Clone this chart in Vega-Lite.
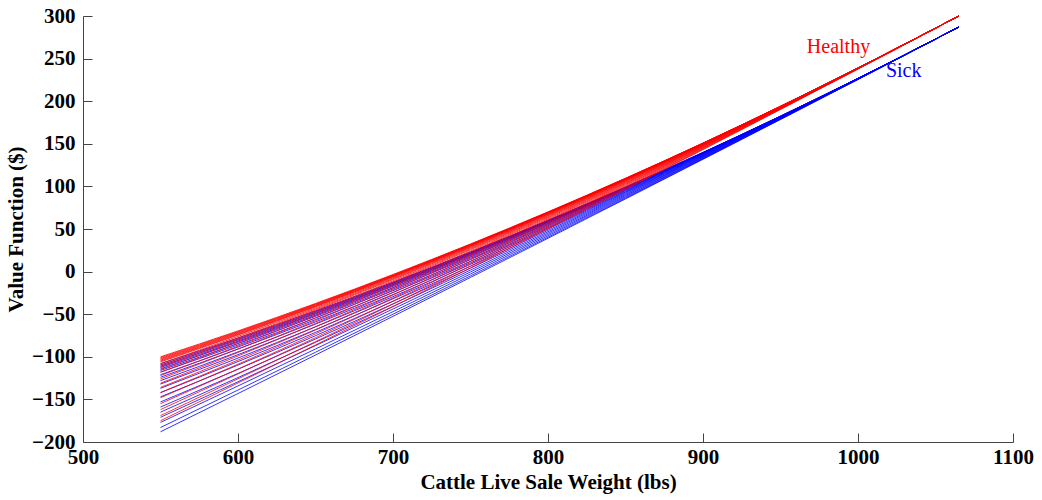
{
"$schema":"https://vega.github.io/schema/vega-lite/v6.json",
"autosize":"none","width":930,"height":426,
"padding":{"left":83,"top":16,"right":29,"bottom":58},
"background":"white",
"config":{"view":{"stroke":null},"font":"Liberation Serif"},
"datasets":{
"labels":[{"grp":"Healthy","lbs":967,"val":256.6},{"grp":"Sick","lbs":1018,"val":228.4}],
"lines":[
{"grp":"Sick","line":23,"lbs":550,"val":-108},{"grp":"Sick","line":23,"lbs":600,"val":-77.9},{"grp":"Sick","line":23,"lbs":700,"val":-12.3},{"grp":"Sick","line":23,"lbs":800,"val":60.3},{"grp":"Sick","line":23,"lbs":900,"val":140.0},{"grp":"Sick","line":23,"lbs":1000,"val":226.8},{"grp":"Sick","line":23,"lbs":1065,"val":287},
{"grp":"Sick","line":24,"lbs":550,"val":-109.5},{"grp":"Sick","line":24,"lbs":600,"val":-79.1},{"grp":"Sick","line":24,"lbs":700,"val":-13.1},{"grp":"Sick","line":24,"lbs":800,"val":59.9},{"grp":"Sick","line":24,"lbs":900,"val":139.8},{"grp":"Sick","line":24,"lbs":1000,"val":226.8},{"grp":"Sick","line":24,"lbs":1065,"val":287},
{"grp":"Sick","line":25,"lbs":550,"val":-111},{"grp":"Sick","line":25,"lbs":600,"val":-80.3},{"grp":"Sick","line":25,"lbs":700,"val":-13.8},{"grp":"Sick","line":25,"lbs":800,"val":59.5},{"grp":"Sick","line":25,"lbs":900,"val":139.7},{"grp":"Sick","line":25,"lbs":1000,"val":226.8},{"grp":"Sick","line":25,"lbs":1065,"val":287},
{"grp":"Sick","line":26,"lbs":550,"val":-112.5},{"grp":"Sick","line":26,"lbs":600,"val":-81.6},{"grp":"Sick","line":26,"lbs":700,"val":-14.6},{"grp":"Sick","line":26,"lbs":800,"val":59.1},{"grp":"Sick","line":26,"lbs":900,"val":139.5},{"grp":"Sick","line":26,"lbs":1000,"val":226.7},{"grp":"Sick","line":26,"lbs":1065,"val":287},
{"grp":"Sick","line":27,"lbs":550,"val":-114},{"grp":"Sick","line":27,"lbs":600,"val":-82.8},{"grp":"Sick","line":27,"lbs":700,"val":-15.3},{"grp":"Sick","line":27,"lbs":800,"val":58.7},{"grp":"Sick","line":27,"lbs":900,"val":139.4},{"grp":"Sick","line":27,"lbs":1000,"val":226.7},{"grp":"Sick","line":27,"lbs":1065,"val":287},
{"grp":"Sick","line":28,"lbs":550,"val":-116},{"grp":"Sick","line":28,"lbs":600,"val":-84.4},{"grp":"Sick","line":28,"lbs":700,"val":-16.3},{"grp":"Sick","line":28,"lbs":800,"val":58.2},{"grp":"Sick","line":28,"lbs":900,"val":139.2},{"grp":"Sick","line":28,"lbs":1000,"val":226.7},{"grp":"Sick","line":28,"lbs":1065,"val":287},
{"grp":"Sick","line":29,"lbs":550,"val":-118},{"grp":"Sick","line":29,"lbs":600,"val":-86.1},{"grp":"Sick","line":29,"lbs":700,"val":-17.3},{"grp":"Sick","line":29,"lbs":800,"val":57.7},{"grp":"Sick","line":29,"lbs":900,"val":139.0},{"grp":"Sick","line":29,"lbs":1000,"val":226.6},{"grp":"Sick","line":29,"lbs":1065,"val":287},
{"grp":"Sick","line":30,"lbs":550,"val":-121},{"grp":"Sick","line":30,"lbs":600,"val":-88.5},{"grp":"Sick","line":30,"lbs":700,"val":-18.8},{"grp":"Sick","line":30,"lbs":800,"val":56.9},{"grp":"Sick","line":30,"lbs":900,"val":138.7},{"grp":"Sick","line":30,"lbs":1000,"val":226.6},{"grp":"Sick","line":30,"lbs":1065,"val":287},
{"grp":"Sick","line":31,"lbs":550,"val":-124},{"grp":"Sick","line":31,"lbs":600,"val":-90.9},{"grp":"Sick","line":31,"lbs":700,"val":-20.3},{"grp":"Sick","line":31,"lbs":800,"val":56.1},{"grp":"Sick","line":31,"lbs":900,"val":138.4},{"grp":"Sick","line":31,"lbs":1000,"val":226.5},{"grp":"Sick","line":31,"lbs":1065,"val":287},
{"grp":"Sick","line":32,"lbs":550,"val":-128},{"grp":"Sick","line":32,"lbs":600,"val":-94.2},{"grp":"Sick","line":32,"lbs":700,"val":-22.4},{"grp":"Sick","line":32,"lbs":800,"val":55.0},{"grp":"Sick","line":32,"lbs":900,"val":138.0},{"grp":"Sick","line":32,"lbs":1000,"val":226.5},{"grp":"Sick","line":32,"lbs":1065,"val":287},
{"grp":"Sick","line":33,"lbs":550,"val":-132},{"grp":"Sick","line":33,"lbs":600,"val":-97.5},{"grp":"Sick","line":33,"lbs":700,"val":-24.4},{"grp":"Sick","line":33,"lbs":800,"val":53.9},{"grp":"Sick","line":33,"lbs":900,"val":137.5},{"grp":"Sick","line":33,"lbs":1000,"val":226.4},{"grp":"Sick","line":33,"lbs":1065,"val":287},
{"grp":"Sick","line":34,"lbs":550,"val":-137},{"grp":"Sick","line":34,"lbs":600,"val":-101.5},{"grp":"Sick","line":34,"lbs":700,"val":-26.9},{"grp":"Sick","line":34,"lbs":800,"val":52.6},{"grp":"Sick","line":34,"lbs":900,"val":137.0},{"grp":"Sick","line":34,"lbs":1000,"val":226.3},{"grp":"Sick","line":34,"lbs":1065,"val":287},
{"grp":"Sick","line":35,"lbs":550,"val":-142},{"grp":"Sick","line":35,"lbs":600,"val":-105.6},{"grp":"Sick","line":35,"lbs":700,"val":-29.4},{"grp":"Sick","line":35,"lbs":800,"val":51.3},{"grp":"Sick","line":35,"lbs":900,"val":136.5},{"grp":"Sick","line":35,"lbs":1000,"val":226.3},{"grp":"Sick","line":35,"lbs":1065,"val":287},
{"grp":"Sick","line":36,"lbs":550,"val":-147},{"grp":"Sick","line":36,"lbs":600,"val":-109.7},{"grp":"Sick","line":36,"lbs":700,"val":-31.9},{"grp":"Sick","line":36,"lbs":800,"val":50.0},{"grp":"Sick","line":36,"lbs":900,"val":136.0},{"grp":"Sick","line":36,"lbs":1000,"val":226.2},{"grp":"Sick","line":36,"lbs":1065,"val":287},
{"grp":"Sick","line":37,"lbs":550,"val":-153},{"grp":"Sick","line":37,"lbs":600,"val":-114.6},{"grp":"Sick","line":37,"lbs":700,"val":-34.9},{"grp":"Sick","line":37,"lbs":800,"val":48.4},{"grp":"Sick","line":37,"lbs":900,"val":135.4},{"grp":"Sick","line":37,"lbs":1000,"val":226.1},{"grp":"Sick","line":37,"lbs":1065,"val":287},
{"grp":"Sick","line":38,"lbs":550,"val":-159},{"grp":"Sick","line":38,"lbs":600,"val":-119.5},{"grp":"Sick","line":38,"lbs":700,"val":-37.9},{"grp":"Sick","line":38,"lbs":800,"val":46.8},{"grp":"Sick","line":38,"lbs":900,"val":134.8},{"grp":"Sick","line":38,"lbs":1000,"val":226.0},{"grp":"Sick","line":38,"lbs":1065,"val":287},
{"grp":"Sick","line":39,"lbs":550,"val":-165},{"grp":"Sick","line":39,"lbs":600,"val":-124.4},{"grp":"Sick","line":39,"lbs":700,"val":-40.9},{"grp":"Sick","line":39,"lbs":800,"val":45.2},{"grp":"Sick","line":39,"lbs":900,"val":134.2},{"grp":"Sick","line":39,"lbs":1000,"val":225.9},{"grp":"Sick","line":39,"lbs":1065,"val":287},
{"grp":"Sick","line":40,"lbs":550,"val":-171},{"grp":"Sick","line":40,"lbs":600,"val":-129.3},{"grp":"Sick","line":40,"lbs":700,"val":-43.9},{"grp":"Sick","line":40,"lbs":800,"val":43.6},{"grp":"Sick","line":40,"lbs":900,"val":133.5},{"grp":"Sick","line":40,"lbs":1000,"val":225.8},{"grp":"Sick","line":40,"lbs":1065,"val":287},
{"grp":"Sick","line":41,"lbs":550,"val":-177},{"grp":"Sick","line":41,"lbs":600,"val":-134.2},{"grp":"Sick","line":41,"lbs":700,"val":-47.0},{"grp":"Sick","line":41,"lbs":800,"val":42.0},{"grp":"Sick","line":41,"lbs":900,"val":132.9},{"grp":"Sick","line":41,"lbs":1000,"val":225.7},{"grp":"Sick","line":41,"lbs":1065,"val":287},
{"grp":"Sick","line":42,"lbs":550,"val":-183},{"grp":"Sick","line":42,"lbs":600,"val":-139.0},{"grp":"Sick","line":42,"lbs":700,"val":-50.0},{"grp":"Sick","line":42,"lbs":800,"val":40.4},{"grp":"Sick","line":42,"lbs":900,"val":132.3},{"grp":"Sick","line":42,"lbs":1000,"val":225.6},{"grp":"Sick","line":42,"lbs":1065,"val":287},
{"grp":"Sick","line":43,"lbs":550,"val":-188},{"grp":"Sick","line":43,"lbs":600,"val":-143.1},{"grp":"Sick","line":43,"lbs":700,"val":-52.5},{"grp":"Sick","line":43,"lbs":800,"val":39.1},{"grp":"Sick","line":43,"lbs":900,"val":131.8},{"grp":"Sick","line":43,"lbs":1000,"val":225.5},{"grp":"Sick","line":43,"lbs":1065,"val":287},
{"grp":"Healthy","line":1,"lbs":550,"val":-100},{"grp":"Healthy","line":1,"lbs":600,"val":-69.6},{"grp":"Healthy","line":1,"lbs":700,"val":-3.4},{"grp":"Healthy","line":1,"lbs":800,"val":70.1},{"grp":"Healthy","line":1,"lbs":900,"val":150.9},{"grp":"Healthy","line":1,"lbs":1000,"val":239.0},{"grp":"Healthy","line":1,"lbs":1065,"val":300},
{"grp":"Healthy","line":2,"lbs":550,"val":-101},{"grp":"Healthy","line":2,"lbs":600,"val":-70.4},{"grp":"Healthy","line":2,"lbs":700,"val":-3.9},{"grp":"Healthy","line":2,"lbs":800,"val":69.8},{"grp":"Healthy","line":2,"lbs":900,"val":150.8},{"grp":"Healthy","line":2,"lbs":1000,"val":239.0},{"grp":"Healthy","line":2,"lbs":1065,"val":300},
{"grp":"Healthy","line":3,"lbs":550,"val":-102},{"grp":"Healthy","line":3,"lbs":600,"val":-71.2},{"grp":"Healthy","line":3,"lbs":700,"val":-4.4},{"grp":"Healthy","line":3,"lbs":800,"val":69.6},{"grp":"Healthy","line":3,"lbs":900,"val":150.7},{"grp":"Healthy","line":3,"lbs":1000,"val":239.0},{"grp":"Healthy","line":3,"lbs":1065,"val":300},
{"grp":"Healthy","line":4,"lbs":550,"val":-103},{"grp":"Healthy","line":4,"lbs":600,"val":-72.0},{"grp":"Healthy","line":4,"lbs":700,"val":-4.9},{"grp":"Healthy","line":4,"lbs":800,"val":69.3},{"grp":"Healthy","line":4,"lbs":900,"val":150.6},{"grp":"Healthy","line":4,"lbs":1000,"val":239.0},{"grp":"Healthy","line":4,"lbs":1065,"val":300},
{"grp":"Healthy","line":5,"lbs":550,"val":-104},{"grp":"Healthy","line":5,"lbs":600,"val":-72.9},{"grp":"Healthy","line":5,"lbs":700,"val":-5.4},{"grp":"Healthy","line":5,"lbs":800,"val":69.0},{"grp":"Healthy","line":5,"lbs":900,"val":150.5},{"grp":"Healthy","line":5,"lbs":1000,"val":238.9},{"grp":"Healthy","line":5,"lbs":1065,"val":300},
{"grp":"Healthy","line":6,"lbs":550,"val":-105},{"grp":"Healthy","line":6,"lbs":600,"val":-73.7},{"grp":"Healthy","line":6,"lbs":700,"val":-5.9},{"grp":"Healthy","line":6,"lbs":800,"val":68.8},{"grp":"Healthy","line":6,"lbs":900,"val":150.4},{"grp":"Healthy","line":6,"lbs":1000,"val":238.9},{"grp":"Healthy","line":6,"lbs":1065,"val":300},
{"grp":"Healthy","line":7,"lbs":550,"val":-106},{"grp":"Healthy","line":7,"lbs":600,"val":-74.5},{"grp":"Healthy","line":7,"lbs":700,"val":-6.4},{"grp":"Healthy","line":7,"lbs":800,"val":68.5},{"grp":"Healthy","line":7,"lbs":900,"val":150.3},{"grp":"Healthy","line":7,"lbs":1000,"val":238.9},{"grp":"Healthy","line":7,"lbs":1065,"val":300},
{"grp":"Healthy","line":8,"lbs":550,"val":-108},{"grp":"Healthy","line":8,"lbs":600,"val":-76.1},{"grp":"Healthy","line":8,"lbs":700,"val":-7.4},{"grp":"Healthy","line":8,"lbs":800,"val":68.0},{"grp":"Healthy","line":8,"lbs":900,"val":150.1},{"grp":"Healthy","line":8,"lbs":1000,"val":238.9},{"grp":"Healthy","line":8,"lbs":1065,"val":300},
{"grp":"Healthy","line":9,"lbs":550,"val":-110},{"grp":"Healthy","line":9,"lbs":600,"val":-77.8},{"grp":"Healthy","line":9,"lbs":700,"val":-8.4},{"grp":"Healthy","line":9,"lbs":800,"val":67.5},{"grp":"Healthy","line":9,"lbs":900,"val":149.9},{"grp":"Healthy","line":9,"lbs":1000,"val":238.8},{"grp":"Healthy","line":9,"lbs":1065,"val":300},
{"grp":"Healthy","line":10,"lbs":550,"val":-112},{"grp":"Healthy","line":10,"lbs":600,"val":-79.4},{"grp":"Healthy","line":10,"lbs":700,"val":-9.4},{"grp":"Healthy","line":10,"lbs":800,"val":66.9},{"grp":"Healthy","line":10,"lbs":900,"val":149.7},{"grp":"Healthy","line":10,"lbs":1000,"val":238.8},{"grp":"Healthy","line":10,"lbs":1065,"val":300},
{"grp":"Healthy","line":11,"lbs":550,"val":-115},{"grp":"Healthy","line":11,"lbs":600,"val":-81.8},{"grp":"Healthy","line":11,"lbs":700,"val":-10.9},{"grp":"Healthy","line":11,"lbs":800,"val":66.1},{"grp":"Healthy","line":11,"lbs":900,"val":149.4},{"grp":"Healthy","line":11,"lbs":1000,"val":238.8},{"grp":"Healthy","line":11,"lbs":1065,"val":300},
{"grp":"Healthy","line":12,"lbs":550,"val":-118},{"grp":"Healthy","line":12,"lbs":600,"val":-84.3},{"grp":"Healthy","line":12,"lbs":700,"val":-12.4},{"grp":"Healthy","line":12,"lbs":800,"val":65.3},{"grp":"Healthy","line":12,"lbs":900,"val":149.1},{"grp":"Healthy","line":12,"lbs":1000,"val":238.7},{"grp":"Healthy","line":12,"lbs":1065,"val":300},
{"grp":"Healthy","line":13,"lbs":550,"val":-122},{"grp":"Healthy","line":13,"lbs":600,"val":-87.5},{"grp":"Healthy","line":13,"lbs":700,"val":-14.5},{"grp":"Healthy","line":13,"lbs":800,"val":64.3},{"grp":"Healthy","line":13,"lbs":900,"val":148.6},{"grp":"Healthy","line":13,"lbs":1000,"val":238.7},{"grp":"Healthy","line":13,"lbs":1065,"val":300},
{"grp":"Healthy","line":14,"lbs":550,"val":-126},{"grp":"Healthy","line":14,"lbs":600,"val":-90.8},{"grp":"Healthy","line":14,"lbs":700,"val":-16.5},{"grp":"Healthy","line":14,"lbs":800,"val":63.2},{"grp":"Healthy","line":14,"lbs":900,"val":148.2},{"grp":"Healthy","line":14,"lbs":1000,"val":238.6},{"grp":"Healthy","line":14,"lbs":1065,"val":300},
{"grp":"Healthy","line":15,"lbs":550,"val":-131},{"grp":"Healthy","line":15,"lbs":600,"val":-94.9},{"grp":"Healthy","line":15,"lbs":700,"val":-19.0},{"grp":"Healthy","line":15,"lbs":800,"val":61.9},{"grp":"Healthy","line":15,"lbs":900,"val":147.7},{"grp":"Healthy","line":15,"lbs":1000,"val":238.5},{"grp":"Healthy","line":15,"lbs":1065,"val":300},
{"grp":"Healthy","line":16,"lbs":550,"val":-136},{"grp":"Healthy","line":16,"lbs":600,"val":-99.0},{"grp":"Healthy","line":16,"lbs":700,"val":-21.5},{"grp":"Healthy","line":16,"lbs":800,"val":60.6},{"grp":"Healthy","line":16,"lbs":900,"val":147.2},{"grp":"Healthy","line":16,"lbs":1000,"val":238.4},{"grp":"Healthy","line":16,"lbs":1065,"val":300},
{"grp":"Healthy","line":17,"lbs":550,"val":-142},{"grp":"Healthy","line":17,"lbs":600,"val":-103.8},{"grp":"Healthy","line":17,"lbs":700,"val":-24.5},{"grp":"Healthy","line":17,"lbs":800,"val":59.0},{"grp":"Healthy","line":17,"lbs":900,"val":146.6},{"grp":"Healthy","line":17,"lbs":1000,"val":238.3},{"grp":"Healthy","line":17,"lbs":1065,"val":300},
{"grp":"Healthy","line":18,"lbs":550,"val":-148},{"grp":"Healthy","line":18,"lbs":600,"val":-108.7},{"grp":"Healthy","line":18,"lbs":700,"val":-27.5},{"grp":"Healthy","line":18,"lbs":800,"val":57.4},{"grp":"Healthy","line":18,"lbs":900,"val":146.0},{"grp":"Healthy","line":18,"lbs":1000,"val":238.2},{"grp":"Healthy","line":18,"lbs":1065,"val":300},
{"grp":"Healthy","line":19,"lbs":550,"val":-155},{"grp":"Healthy","line":19,"lbs":600,"val":-114.4},{"grp":"Healthy","line":19,"lbs":700,"val":-31.0},{"grp":"Healthy","line":19,"lbs":800,"val":55.5},{"grp":"Healthy","line":19,"lbs":900,"val":145.3},{"grp":"Healthy","line":19,"lbs":1000,"val":238.1},{"grp":"Healthy","line":19,"lbs":1065,"val":300},
{"grp":"Healthy","line":20,"lbs":550,"val":-162},{"grp":"Healthy","line":20,"lbs":600,"val":-120.1},{"grp":"Healthy","line":20,"lbs":700,"val":-34.5},{"grp":"Healthy","line":20,"lbs":800,"val":53.7},{"grp":"Healthy","line":20,"lbs":900,"val":144.5},{"grp":"Healthy","line":20,"lbs":1000,"val":238.0},{"grp":"Healthy","line":20,"lbs":1065,"val":300},
{"grp":"Healthy","line":21,"lbs":550,"val":-169},{"grp":"Healthy","line":21,"lbs":600,"val":-125.8},{"grp":"Healthy","line":21,"lbs":700,"val":-38.1},{"grp":"Healthy","line":21,"lbs":800,"val":51.8},{"grp":"Healthy","line":21,"lbs":900,"val":143.8},{"grp":"Healthy","line":21,"lbs":1000,"val":237.9},{"grp":"Healthy","line":21,"lbs":1065,"val":300},
{"grp":"Healthy","line":22,"lbs":550,"val":-175},{"grp":"Healthy","line":22,"lbs":600,"val":-130.7},{"grp":"Healthy","line":22,"lbs":700,"val":-41.1},{"grp":"Healthy","line":22,"lbs":800,"val":50.2},{"grp":"Healthy","line":22,"lbs":900,"val":143.2},{"grp":"Healthy","line":22,"lbs":1000,"val":237.8},{"grp":"Healthy","line":22,"lbs":1065,"val":300}
]},
"layer":[
{"data":{"name":"lines"},
"mark":{"type":"line","strokeWidth":0.8,"interpolate":"monotone","clip":false},
"encoding":{
"x":{"field":"lbs","type":"quantitative","scale":{"domain":[500,1100],"nice":false,"zero":false},
"axis":{"title":"Cattle Live Sale Weight (lbs)","values":[500,600,700,800,900,1000,1100],"format":"d","grid":false,"tickSize":-9,"labelPadding":13,"domainColor":"#444","tickColor":"#444","labelFont":"Liberation Serif","labelFontWeight":"bold","labelFontSize":21,"labelColor":"black","labelFlush":false,"labelOverlap":false,"titleFont":"Liberation Serif","titleFontWeight":"bold","titleFontSize":21,"titleColor":"black","titlePadding":4}},
"y":{"field":"val","type":"quantitative","scale":{"domain":[-200,300],"nice":false,"zero":false},
"axis":{"title":"Value Function ($)","values":[-200,-150,-100,-50,0,50,100,150,200,250,300],"grid":false,"tickSize":-9,"labelPadding":17,"domainColor":"#444","tickColor":"#444","labelFont":"Liberation Serif","labelFontWeight":"bold","labelFontSize":21,"labelColor":"black","labelFlush":false,"labelOverlap":false,"titleFont":"Liberation Serif","titleFontWeight":"bold","titleFontSize":21,"titleColor":"black","titlePadding":5}},
"color":{"field":"grp","type":"nominal","scale":{"domain":["Healthy","Sick"],"range":["#ff0000","#0000ff"]},"legend":null},
"detail":{"field":"line","type":"nominal"}
}},
{"data":{"name":"labels"},
"mark":{"type":"text","align":"left","baseline":"alphabetic","font":"Liberation Serif","fontSize":20},
"encoding":{
"x":{"field":"lbs","type":"quantitative"},
"y":{"field":"val","type":"quantitative"},
"text":{"field":"grp","type":"nominal"},
"color":{"field":"grp","type":"nominal","scale":{"domain":["Healthy","Sick"],"range":["#ff0000","#0000ff"]},"legend":null}
}}
]
}
